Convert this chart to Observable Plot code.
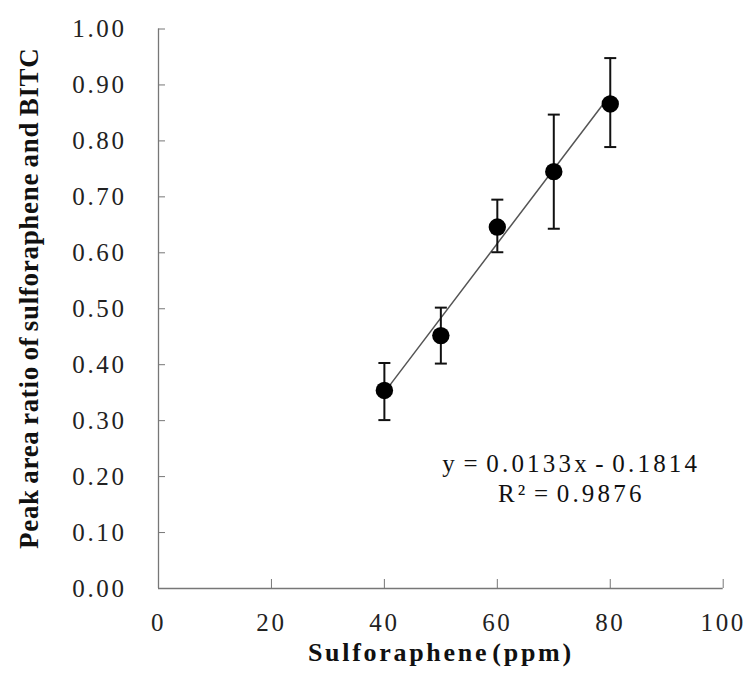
<!DOCTYPE html>
<html>
<head>
<meta charset="utf-8">
<script src="https://cdn.jsdelivr.net/npm/d3@7"></script>
<script src="https://cdn.jsdelivr.net/npm/@observablehq/plot@0.6"></script>
<style>
  body { margin: 0; background: #fff; }
  #chart svg { display: block; }
  #chart g[aria-label="x-axis tick label"] text,
  #chart g[aria-label="y-axis tick label"] text { letter-spacing: 2.6px; }
  #chart g.eq text { letter-spacing: 3.2px; word-spacing: -4px; }
  #chart g.xtitle text { letter-spacing: 2.7px; word-spacing: -6px; }
  #chart g.ytitle text { letter-spacing: 0.7px; word-spacing: -2px; }
</style>
</head>
<body>
<div id="chart"></div>
<script>
// Data
const concentrations = [40, 50, 60, 70, 80];          // Sulforaphene (ppm)
const ratios        = [0.354, 0.452, 0.646, 0.745, 0.866];
const errLow        = [0.301, 0.402, 0.601, 0.643, 0.789];
const errHigh       = [0.403, 0.502, 0.695, 0.847, 0.948];
const xTicks = [0, 20, 40, 60, 80, 100];
const yTicks = [0, 0.1, 0.2, 0.3, 0.4, 0.5, 0.6, 0.7, 0.8, 0.9, 1.0];
const slope = 0.0133, intercept = -0.1814;
const equationText = "y = 0.0133x - 0.1814\nR² = 0.9876";
const equationAt = {x: 73.1, y: 0.199};
const xTitle = "Sulforaphene (ppm)";
const yTitle = "Peak area ratio of sulforaphene and BITC";

const points = concentrations.map((c, i) => ({x: c, y: ratios[i], lo: errLow[i], hi: errHigh[i]}));
const fitX = [d3.min(concentrations), d3.max(concentrations)];
const fit = fitX.map(x => ({x, y: slope * x + intercept}));
const caps = points.flatMap(d => [{x: d.x, y: d.lo}, {x: d.x, y: d.hi}]);

const capSymbol = {
  draw(ctx, size) {
    const w = Math.sqrt(size / Math.PI);
    ctx.moveTo(-w, 0);
    ctx.lineTo(w, 0);
  }
};

const serif = "'Liberation Serif', 'Times New Roman', serif";

const chart = Plot.plot({
  width: 752,
  height: 677,
  marginLeft: 158,
  marginRight: 29.3,
  marginTop: 28.5,
  marginBottom: 89,
  style: {fontFamily: serif, background: "#fff", color: "#111"},
  x: {domain: [0, 100]},
  y: {domain: [0, 1]},
  marks: [
    Plot.axisX({ticks: xTicks, tickSize: -9, tickPadding: 34, fontSize: 25, tickFormat: d => d, stroke: "#777", fill: "#222", label: null}),
    Plot.axisY({ticks: yTicks, tickSize: -7, tickPadding: 39, fontSize: 25, tickFormat: d3.format(".2f"), stroke: "#777", fill: "#222", label: null}),
    Plot.ruleY([0], {stroke: "#777", strokeWidth: 1.3}),
    Plot.ruleX([0], {stroke: "#777", strokeWidth: 1.3}),
    Plot.line(fit, {x: "x", y: "y", stroke: "#555", strokeWidth: 1.5}),
    Plot.ruleX(points, {x: "x", y1: "lo", y2: "hi", stroke: "#111", strokeWidth: 2}),
    Plot.dot(caps, {x: "x", y: "y", r: 6, symbol: capSymbol, stroke: "#111", strokeWidth: 2, fill: "none"}),
    Plot.dot(points, {x: "x", y: "y", r: 8.7, fill: "#000", stroke: "none"}),
    Plot.text([equationText], {x: () => equationAt.x, y: () => equationAt.y, fontSize: 25, lineHeight: 1.2, textAnchor: "middle", fill: "#111", className: "eq"}),
    Plot.text([xTitle], {frameAnchor: "bottom", dy: 72, fontSize: 26, fontWeight: "bold", fill: "#111", className: "xtitle"}),
    Plot.text([yTitle], {frameAnchor: "left", textAnchor: "middle", rotate: -90, dx: -129, dy: -10.5, fontSize: 27, fontWeight: "bold", fill: "#111", className: "ytitle"})
  ]
});
document.getElementById("chart").appendChild(chart);
</script>
</body>
</html>
